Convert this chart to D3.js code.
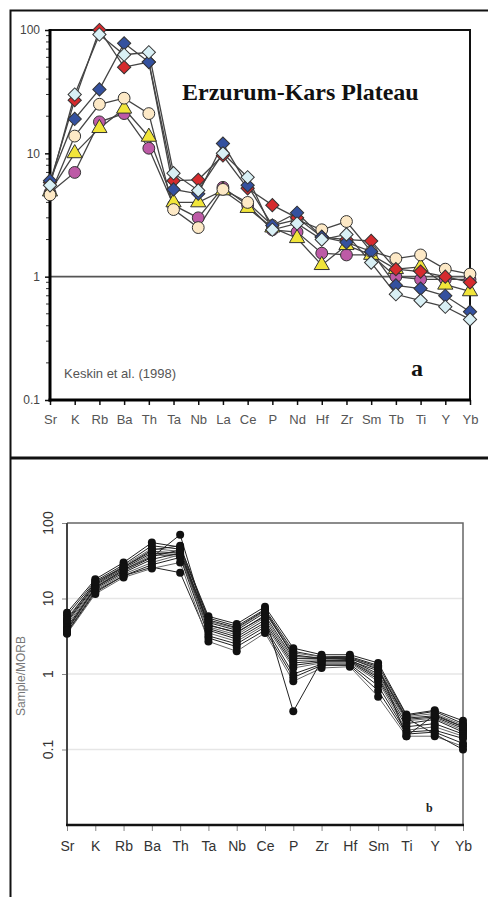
<!DOCTYPE html>
<html>
<head>
<meta charset="utf-8">
<script src="https://d3js.org/d3.v7.min.js"></script>
<style>
body { margin: 0; background: #fff; }
svg { display: block; }
</style>
</head>
<body>
<div id="chart"></div>
<script>
// panel a: Erzurum-Kars, 18 elements
var catsA = ["Sr","K","Rb","Ba","Th","Ta","Nb","La","Ce","P","Nd","Hf","Zr","Sm","Tb","Ti","Y","Yb"];
var blueA    = [6.0, 19, 33, 78, 55, 5.1, 4.7, 12, 5.5, 2.6, 3.3, 2.1, 1.9, 1.6, 0.85, 0.8, 0.7, 0.52];
var redA     = [5.8, 27, 100, 50, 55, 6.0, 6.1, 9.6, 5.2, 3.8, 3.0, 2.1, 2.0, 1.95, 1.15, 1.1, 1.0, 0.9];
var cyanA    = [5.5, 30, 92, 63, 66, 6.9, 5.0, 10, 6.4, 2.4, 2.7, 2.0, 2.2, 1.3, 0.72, 0.64, 0.57, 0.45];
var creamA   = [4.6, 13.8, 25, 28, 21, 3.5, 2.5, 5.1, 4.0, 2.6, 2.9, 2.4, 2.8, 1.6, 1.4, 1.5, 1.15, 1.05];
var magentaA = [4.8, 7.0, 18, 21, 11, 3.8, 3.0, 5.3, 3.8, 2.4, 2.3, 1.55, 1.5, 1.5, 1.0, 0.95, 0.95, 0.95];
var yellowA  = [4.9, 10, 16, 23, 13.6, 4.0, 4.0, 5.0, 3.6, 2.5, 2.05, 1.24, 1.8, 1.5, 1.15, 1.2, 0.86, 0.76];
var ticksA = [0.1, 1, 10, 100];

// panel b: 15 elements, sample/MORB
var catsB = ["Sr","K","Rb","Ba","Th","Ta","Nb","Ce","P","Zr","Hf","Sm","Ti","Y","Yb"];
var b01 = [6.5, 18, 30, 55, 48, 5.8, 4.6, 7.8, 2.2, 1.8, 1.8, 1.4, 0.29, 0.33, 0.24];
var b02 = [6.0, 17, 28, 50, 45, 5.5, 4.3, 7.2, 2.0, 1.7, 1.7, 1.3, 0.28, 0.32, 0.22];
var b03 = [5.5, 16, 27, 46, 42, 5.0, 4.0, 6.8, 1.9, 1.7, 1.6, 1.2, 0.27, 0.30, 0.21];
var b04 = [5.0, 15.5, 26, 42, 40, 4.8, 3.8, 6.5, 1.8, 1.6, 1.6, 1.15, 0.26, 0.28, 0.20];
var b05 = [4.8, 15, 25, 40, 38, 4.5, 3.5, 6.0, 1.6, 1.6, 1.55, 1.0, 0.25, 0.27, 0.19];
var b06 = [4.5, 14.5, 24, 38, 36, 4.2, 3.3, 5.6, 1.5, 1.55, 1.5, 0.95, 0.24, 0.26, 0.18];
var b07 = [4.2, 14, 23, 35, 70, 4.0, 3.1, 5.2, 1.4, 1.5, 1.5, 0.9, 0.22, 0.25, 0.17];
var b08 = [4.0, 13.5, 22, 33, 40, 3.8, 2.9, 4.8, 1.3, 1.45, 1.45, 0.85, 0.20, 0.22, 0.16];
var b09 = [3.8, 13, 21, 30, 38, 3.5, 2.7, 4.5, 1.2, 1.4, 1.4, 0.8, 0.18, 0.20, 0.15];
var b10 = [3.6, 12.5, 20, 28, 35, 3.2, 2.5, 4.2, 1.0, 1.35, 1.35, 0.7, 0.17, 0.18, 0.14];
var b11 = [3.5, 12, 20, 26, 22, 3.0, 2.3, 3.8, 0.9, 1.3, 1.3, 0.6, 0.16, 0.17, 0.12];
var b12 = [3.4, 11.5, 19, 25, 30, 2.7, 2.0, 3.5, 0.8, 1.2, 1.25, 0.5, 0.15, 0.15, 0.11];
var b13 = [3.8, 14, 24, 36, 44, 4.4, 3.6, 5.8, 0.32, 1.5, 1.5, 1.1, 0.26, 0.16, 0.10];
var b14 = [5.2, 16.5, 26, 44, 50, 5.2, 4.1, 7.0, 1.7, 1.65, 1.65, 1.25, 0.15, 0.29, 0.20];
var ticksB = [0.1, 1, 10, 100];

var W = 488, H = 897;
var svg = d3.select("#chart").append("svg")
  .attr("width", W).attr("height", H);

// outer frame
svg.append("path").attr("d", "M488,10.5 H10.5 V897")
  .attr("fill", "none").attr("stroke", "#111").attr("stroke-width", 2);
svg.append("line").attr("x1", 10).attr("x2", 488).attr("y1", 458).attr("y2", 458)
  .attr("stroke", "#111").attr("stroke-width", 3);

// ---------- panel a ----------
var xA = d3.scalePoint().domain(catsA).range([50, 470]);
var yA = d3.scaleLog().domain([0.1, 100]).range([400, 30]);
var gA = svg.append("g");

// top/right border
gA.append("path").attr("d", "M50,30 H470 V400")
  .attr("fill", "none").attr("stroke", "#111").attr("stroke-width", 2);

// line at 1
gA.append("line").attr("x1", 50).attr("x2", 470)
  .attr("y1", yA(1)).attr("y2", yA(1))
  .attr("stroke", "#555").attr("stroke-width", 1.8);

// minor ticks on left axis
var minorA = [];
[0.1, 1, 10].forEach(function (d) { for (var k = 2; k < 10; k++) minorA.push(d * k); });
gA.selectAll(".minA").data(minorA).enter().append("line")
  .attr("x1", 46).attr("x2", 50)
  .attr("y1", function (d) { return yA(d); }).attr("y2", function (d) { return yA(d); })
  .attr("stroke", "#333").attr("stroke-width", 1);

var yAxA = gA.append("g").attr("transform", "translate(50,0)")
  .call(d3.axisLeft(yA).tickValues(ticksA).tickSize(5).tickPadding(5)
    .tickFormat(function (d) { return d3.format("~g")(d); }));
yAxA.select(".domain").remove();
yAxA.selectAll("line").attr("stroke", "#111").attr("stroke-width", 1.5);
yAxA.selectAll("text").attr("font-family", "Arial, 'Liberation Sans', sans-serif")
  .attr("font-size", 12).attr("fill", "#444");

var xAxA = gA.append("g").attr("transform", "translate(0,400)")
  .call(d3.axisBottom(xA).tickSize(5).tickPadding(10));
xAxA.select(".domain").remove();
xAxA.selectAll("line").attr("stroke", "#111").attr("stroke-width", 1.5);
xAxA.selectAll("text").attr("font-family", "Arial, 'Liberation Sans', sans-serif")
  .attr("font-size", 13).attr("fill", "#555");

gA.append("line").attr("x1", 50).attr("x2", 50).attr("y1", 29).attr("y2", 401.5)
  .attr("stroke", "#000").attr("stroke-width", 3);
gA.append("line").attr("x1", 48.5).attr("x2", 471).attr("y1", 400).attr("y2", 400)
  .attr("stroke", "#000").attr("stroke-width", 3);

var lineA = d3.line()
  .x(function (d, i) { return xA(catsA[i]); })
  .y(function (d) { return yA(d); });

var seriesA = [
  { vals: magentaA, fill: "#bd5aa6", shape: d3.symbolCircle, size: 110 },
  { vals: yellowA,  fill: "#f1e53a", shape: d3.symbolTriangle, size: 100 },
  { vals: creamA,   fill: "#fde9c6", shape: d3.symbolCircle, size: 110 },
  { vals: redA,     fill: "#d62b2e", shape: d3.symbolSquare, size: 88, rot: 45 },
  { vals: blueA,    fill: "#34519f", shape: d3.symbolSquare, size: 88, rot: 45 },
  { vals: cyanA,    fill: "#d9f0f5", shape: d3.symbolSquare, size: 88, rot: 45 }
];

seriesA.forEach(function (s) {
  gA.append("path").datum(s.vals)
    .attr("fill", "none").attr("stroke", "#444").attr("stroke-width", 1.3)
    .attr("d", lineA);
});
seriesA.forEach(function (s) {
  gA.append("g").selectAll("path").data(s.vals).enter().append("path")
    .attr("d", d3.symbol().type(s.shape).size(s.size))
    .attr("transform", function (d, i) {
      return "translate(" + xA(catsA[i]) + "," + yA(d) + ")" + (s.rot ? " rotate(" + s.rot + ")" : "");
    })
    .attr("fill", s.fill).attr("stroke", "#333").attr("stroke-width", 1);
});

gA.append("text").attr("x", 182).attr("y", 100)
  .attr("font-family", "'Times New Roman', 'Liberation Serif', serif")
  .attr("font-weight", "bold").attr("font-size", 24).attr("fill", "#111")
  .text("Erzurum-Kars Plateau");
gA.append("text").attr("x", 64).attr("y", 378)
  .attr("font-family", "Arial, 'Liberation Sans', sans-serif")
  .attr("font-size", 13).attr("fill", "#555")
  .text("Keskin et al. (1998)");
gA.append("text").attr("x", 411).attr("y", 376)
  .attr("font-family", "'Times New Roman', 'Liberation Serif', serif")
  .attr("font-weight", "bold").attr("font-size", 24).attr("fill", "#111")
  .text("a");

// ---------- panel b ----------
var xB = d3.scalePoint().domain(catsB).range([67, 463]);
var yB = d3.scaleLog().domain([0.01, 100]).range([825, 523]);
var gB = svg.append("g");

// grid
gB.selectAll(".grid").data([0.1, 1, 10]).enter().append("line")
  .attr("x1", 67).attr("x2", 463)
  .attr("y1", function (d) { return yB(d); }).attr("y2", function (d) { return yB(d); })
  .attr("stroke", "#e6e6e6").attr("stroke-width", 1.5);

gB.append("path").attr("d", "M67,523 H463 V825")
  .attr("fill", "none").attr("stroke", "#666").attr("stroke-width", 1.5);

var yAxB = gB.append("g").attr("transform", "translate(67,0)")
  .call(d3.axisLeft(yB).tickValues(ticksB).tickSize(5).tickFormat(""));
yAxB.select(".domain").remove();
yAxB.selectAll("line").attr("stroke", "#888");
gB.selectAll(".ylabB").data(ticksB).enter().append("text")
  .attr("transform", function (d) { return "translate(53," + yB(d) + ") rotate(-90)"; })
  .attr("text-anchor", "middle")
  .attr("font-family", "Arial, 'Liberation Sans', sans-serif")
  .attr("font-size", 14).attr("fill", "#333")
  .text(function (d) { return d3.format("~g")(d); });

var xAxB = gB.append("g").attr("transform", "translate(0,825)")
  .call(d3.axisBottom(xB).tickSize(6).tickPadding(10));
xAxB.select(".domain").remove();
xAxB.selectAll("line").attr("stroke", "#888");
xAxB.selectAll("text").attr("font-family", "Arial, 'Liberation Sans', sans-serif")
  .attr("font-size", 14).attr("fill", "#333");

gB.append("line").attr("x1", 67).attr("x2", 67).attr("y1", 523).attr("y2", 826)
  .attr("stroke", "#444").attr("stroke-width", 2);
gB.append("line").attr("x1", 66).attr("x2", 464).attr("y1", 825).attr("y2", 825)
  .attr("stroke", "#111").attr("stroke-width", 2.5);

var seriesB = [b01, b02, b03, b04, b05, b06, b07, b08, b09, b10, b11, b12, b13, b14];
var lineB = d3.line()
  .x(function (d, i) { return xB(catsB[i]); })
  .y(function (d) { return yB(d); });

seriesB.forEach(function (s, j) {
  gB.append("path").datum(s)
    .attr("fill", "none").attr("stroke", j % 3 == 2 ? "#666" : "#222").attr("stroke-width", 1)
    .attr("d", lineB);
});
seriesB.forEach(function (s) {
  gB.append("g").selectAll("circle").data(s).enter().append("circle")
    .attr("cx", function (d, i) { return xB(catsB[i]); })
    .attr("cy", function (d) { return yB(d); })
    .attr("r", 4).attr("fill", "#111");
});

gB.append("text")
  .attr("transform", "translate(25,676) rotate(-90)")
  .attr("text-anchor", "middle")
  .attr("font-family", "Arial, 'Liberation Sans', sans-serif")
  .attr("font-size", 12).attr("fill", "#777")
  .text("Sample/MORB");
gB.append("text").attr("x", 426).attr("y", 812)
  .attr("font-family", "'Times New Roman', 'Liberation Serif', serif")
  .attr("font-weight", "bold").attr("font-size", 12).attr("fill", "#222")
  .text("b");
</script>
</body>
</html>
